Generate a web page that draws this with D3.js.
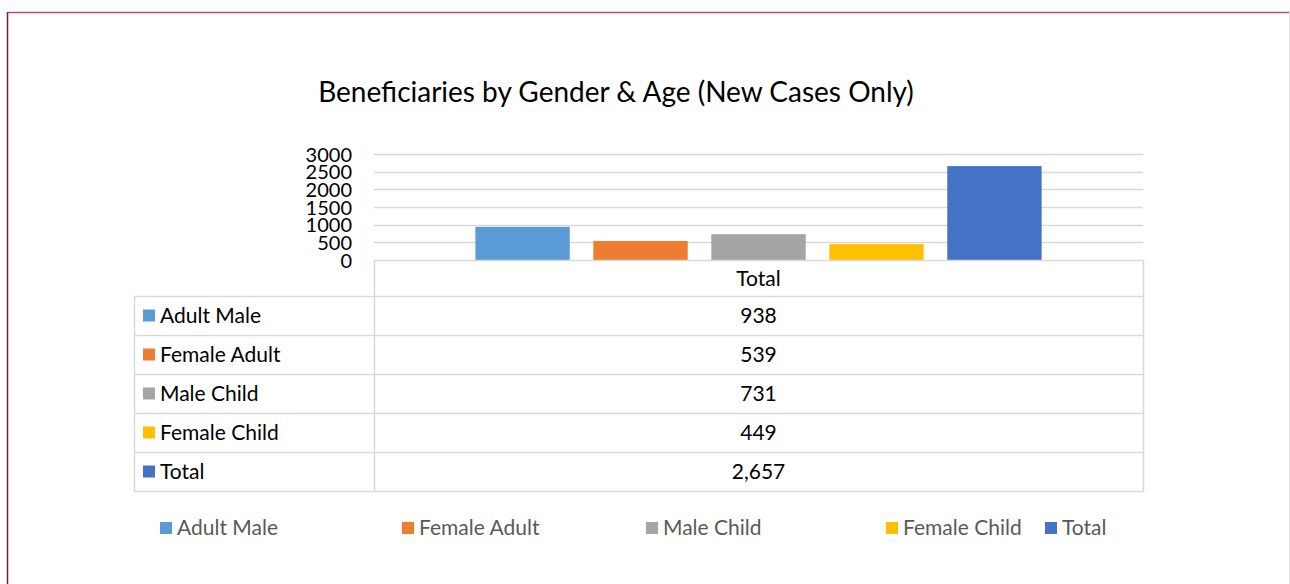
<!DOCTYPE html>
<html><head><meta charset="utf-8">
<script src="https://cdn.jsdelivr.net/npm/d3@7"></script>
<style>
html,body{margin:0;padding:0;background:#fff;}
svg{display:block;font-family:Lato,"Open Sans",sans-serif;}
</style></head>
<body><div id="chart"></div>
<script>
const categories = ["Total"];
const seriesNames = ["Adult Male","Female Adult","Male Child","Female Child","Total"];
const seriesValues = [938, 539, 731, 449, 2657];
const seriesColors = ["#5b9bd5","#ed7d31","#a5a5a5","#ffc000","#4472c4"];
const yTicks = [0,500,1000,1500,2000,2500,3000];
const titleText = "Beneficiaries by Gender & Age (New Cases Only)";

const W = 1290, H = 584;
const svg = d3.select("#chart").append("svg").attr("width", W).attr("height", H);

// outer border
svg.append("line").attr("x1",7.5).attr("x2",1290).attr("y1",12.5).attr("y2",12.5).attr("stroke","#b4506e").attr("stroke-width",1.5);
svg.append("line").attr("x1",7.5).attr("x2",7.5).attr("y1",12).attr("y2",584).attr("stroke","#7a1a3a").attr("stroke-width",1.5);
svg.append("line").attr("x1",1289.5).attr("x2",1289.5).attr("y1",12).attr("y2",584).attr("stroke","#f3d8e0").attr("stroke-width",1);

// title
svg.append("text").attr("x",616).attr("y",102).attr("text-anchor","middle")
  .attr("font-size",28).attr("fill","#000").text(titleText);

const plotL = 374, plotR = 1143, plotT = 154, plotB = 260;
const y = d3.scaleLinear().domain([0,3000]).range([plotB, plotT]);
const x0 = d3.scaleBand().domain(categories).range([plotL, plotR]).paddingInner(0).paddingOuter(0.179);
const x1 = d3.scaleBand().domain(seriesNames).range([0, x0.bandwidth()]).paddingInner(0.2).paddingOuter(0);

// gridlines
svg.append("g").selectAll("line").data(yTicks.filter(d=>d>0)).join("line")
  .attr("x1",plotL).attr("x2",plotR).attr("y1",d=>Math.round(y(d))+0.5).attr("y2",d=>Math.round(y(d))+0.5)
  .attr("stroke","#d9d9d9").attr("stroke-width",1.5);

// y labels
const yAxis = d3.axisLeft(y).tickValues(yTicks).tickSize(0).tickPadding(0).tickFormat(d3.format("d"));
const gy = svg.append("g").attr("transform",`translate(352,0)`).call(yAxis);
gy.select(".domain").remove();
gy.selectAll("text").attr("font-size",20).attr("fill","#000").attr("font-family","Lato,sans-serif").attr("dy","0.35em");

// bars
svg.append("g").selectAll("rect").data(seriesNames.map((s,i)=>({s, v: seriesValues[i], c: seriesColors[i]}))).join("rect")
  .attr("x", d => x0("Total") + x1(d.s))
  .attr("y", d => y(d.v))
  .attr("width", x1.bandwidth())
  .attr("height", d => plotB - y(d.v))
  .attr("fill", d => d.c);

// data table
const tableL = 134, rowH = 39, headerB = 296;
const rows = seriesNames.map((s,i)=>({s, v: seriesValues[i], c: seriesColors[i]}));
const tg = svg.append("g");
const lineC = "#d9d9d9";
tg.append("line").attr("x1",plotL).attr("x2",plotR).attr("y1",plotB+0.5).attr("y2",plotB+0.5).attr("stroke",lineC).attr("stroke-width",1.5);
tg.append("text").attr("x",(plotL+plotR)/2).attr("y",(plotB+headerB)/2+1).attr("dy","0.35em").attr("text-anchor","middle")
  .attr("font-size",21).attr("fill","#000").text(categories[0]);
const hy = d3.range(rows.length+1).map(i => headerB + i*rowH);
tg.selectAll("line.h").data(hy).join("line").attr("class","h")
  .attr("x1",tableL).attr("x2",plotR).attr("y1",d=>d+0.5).attr("y2",d=>d+0.5).attr("stroke",lineC).attr("stroke-width",1.5);
tg.append("line").attr("x1",tableL+0.5).attr("x2",tableL+0.5).attr("y1",headerB).attr("y2",hy[hy.length-1]+1).attr("stroke",lineC).attr("stroke-width",1.5);
tg.append("line").attr("x1",plotL+0.5).attr("x2",plotL+0.5).attr("y1",plotB).attr("y2",hy[hy.length-1]+1).attr("stroke",lineC).attr("stroke-width",1.5);
tg.append("line").attr("x1",plotR+0.5).attr("x2",plotR+0.5).attr("y1",plotB).attr("y2",hy[hy.length-1]+1).attr("stroke",lineC).attr("stroke-width",1.5);
const fmt = d3.format(",");
const rg = tg.selectAll("g.row").data(rows).join("g").attr("class","row")
  .attr("transform",(d,i)=>`translate(0,${headerB + i*rowH})`);
rg.append("rect").attr("x",143).attr("y",rowH/2-6).attr("width",12).attr("height",12).attr("fill",d=>d.c);
rg.append("text").attr("x",160).attr("y",rowH/2).attr("dy","0.35em").attr("font-size",21).attr("fill","#000").text(d=>d.s);
rg.append("text").attr("x",(plotL+plotR)/2).attr("y",rowH/2).attr("dy","0.35em").attr("text-anchor","middle").attr("font-size",21).attr("fill","#000").text(d=>fmt(d.v));

// legend
const legendX = [160, 402, 646, 886, 1045];
const lg = svg.append("g").selectAll("g").data(rows).join("g").attr("transform",(d,i)=>`translate(${legendX[i]},528)`);
lg.append("rect").attr("x",0).attr("y",-6).attr("width",12).attr("height",12).attr("fill",d=>d.c);
lg.append("text").attr("x",17).attr("y",0).attr("dy","0.35em").attr("font-size",21).attr("fill","#595959").text(d=>d.s);
</script>
</body></html>
